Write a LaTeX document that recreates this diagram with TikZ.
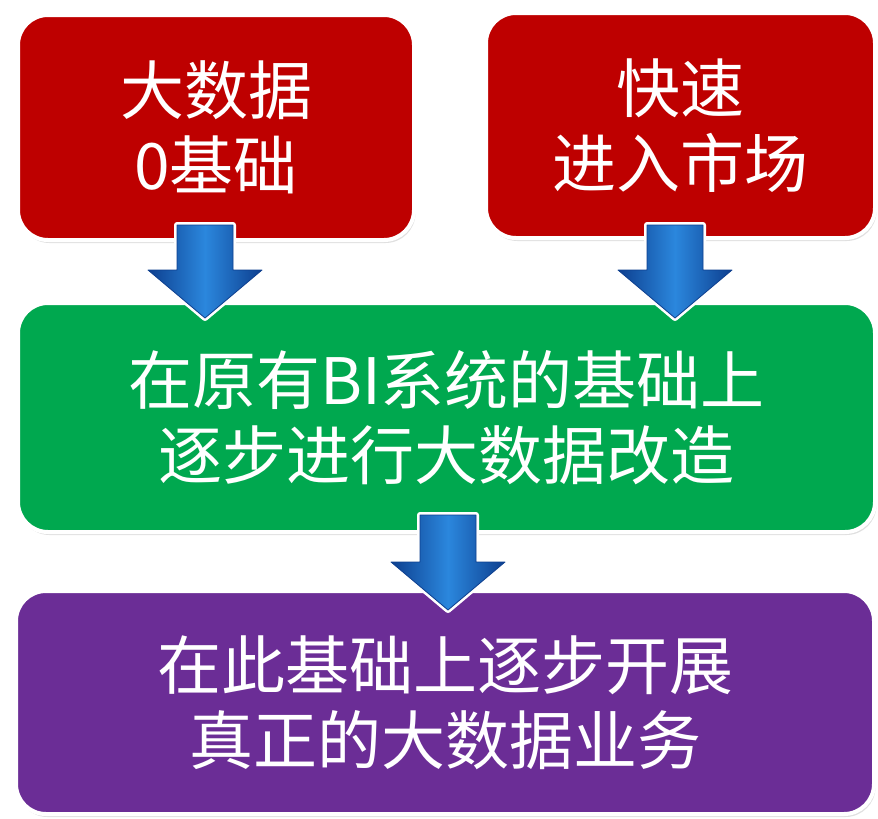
\documentclass[tikz,border=0pt]{standalone}
\usepackage{fontspec}
\setmainfont{Noto Sans CJK SC}
\usetikzlibrary{shadows,calc}
\definecolor{boxred}{HTML}{BE0000}
\definecolor{boxgreen}{HTML}{00A84F}
\definecolor{boxpurple}{HTML}{6B2D96}
\definecolor{arrowdark}{HTML}{0D3F8F}
\definecolor{arrowlight}{HTML}{2B87DD}
\tikzset{
  panel/.style={rounded corners=30pt, draw=white, line width=4pt, text=white,
    align=center, font=\fontsize{64}{75}\selectfont, inner sep=0pt,
    drop shadow={shadow xshift=1.5pt, shadow yshift=-3pt, opacity=0.22, fill=black!55}},
  blockarrow/.style={preaction={draw=white, line width=6pt, line join=round},
    draw=arrowdark, line width=0.8pt, line join=round,
    left color=arrowdark, right color=arrowdark, middle color=arrowlight}
}
\newcommand\blkarrow[4]{%
  \draw[blockarrow] ({#1-28},{#2}) -- ({#1+28},{#2}) -- ({#1+28},{#3}) -- ({#1+57},{#3})
    -- ({#1},{#4}) -- ({#1-57},{#3}) -- ({#1-28},{#3}) -- cycle;}
\begin{document}
\begin{tikzpicture}[x=1pt,y=-1pt]
\fill[white] (0,0) rectangle (878,819);
\useasboundingbox (0,0) rectangle (878,819);
\node[panel, fill=boxred, minimum width=396pt, minimum height=225pt] (r1) at (216,127.5) {大数据\\0基础};
\node[panel, fill=boxred, minimum width=389pt, minimum height=225pt] (r2) at (680.5,125.5) {快速\\进入市场};
\node[panel, fill=boxgreen, minimum width=857pt, minimum height=229pt] (g) at (446.5,417.5) {在原有BI系统的基础上\\逐步进行大数据改造};
\node[panel, fill=boxpurple, minimum width=858pt, minimum height=223pt] (p) at (445,702.5) {在此基础上逐步开展\\真正的大数据业务};
\blkarrow{205}{225}{270}{318}
\blkarrow{675}{225}{270}{318}
\blkarrow{448}{515}{562}{610}
\end{tikzpicture}
\end{document}
